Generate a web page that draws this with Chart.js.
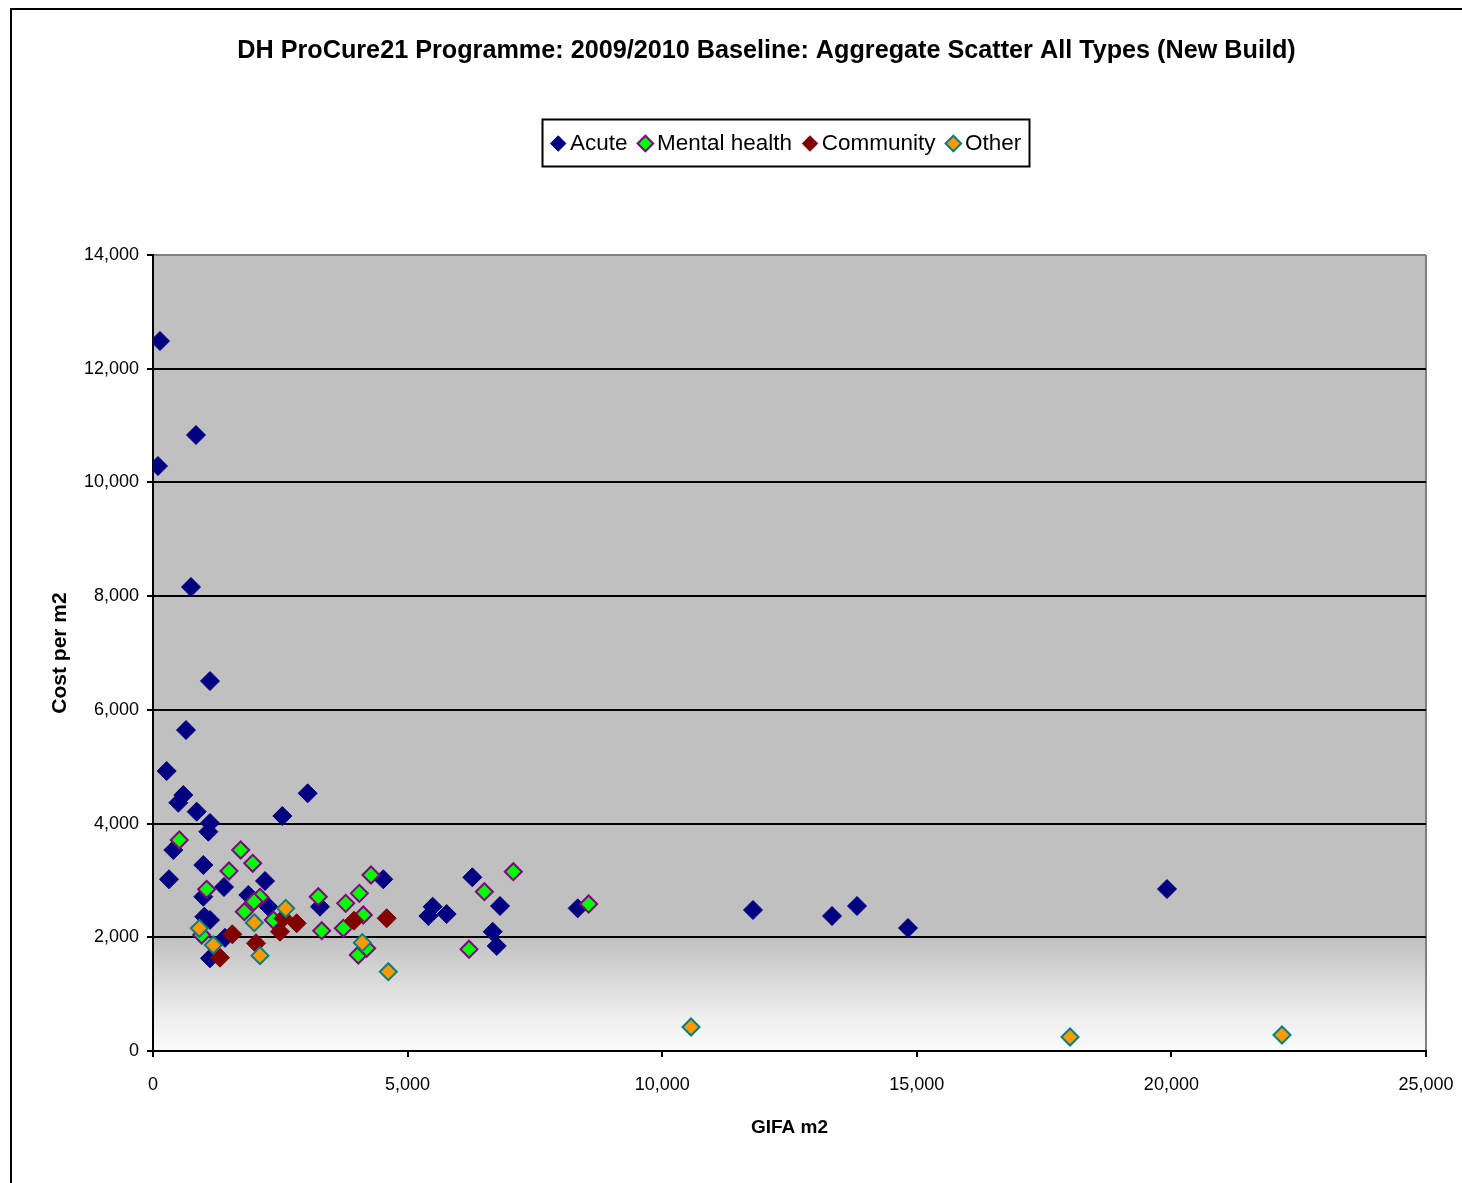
<!DOCTYPE html>
<html>
<head>
<meta charset="utf-8">
<script src="https://cdn.jsdelivr.net/npm/chart.js@4/dist/chart.umd.min.js"></script>
<style>
  html, body { margin: 0; padding: 0; background: #ffffff; }
  #wrap { position: relative; width: 1462px; height: 1183px; }
</style>
</head>
<body>
<div id="wrap"><canvas id="c"></canvas></div>
<script>
// ---------- DATA ----------
const chartTitle = 'DH ProCure21 Programme: 2009/2010 Baseline: Aggregate Scatter All Types (New Build)';
const seriesNames = ['Acute', 'Mental health', 'Community', 'Other'];
const xAxisTitle = 'GIFA m2';
const yAxisTitle = 'Cost per m2';
const xTicks = [0, 5000, 10000, 15000, 20000, 25000];
const yTicks = [0, 2000, 4000, 6000, 8000, 10000, 12000, 14000];

// GIFA m2 (x) / Cost per m2 (y)
const acuteX = [137, 98, 844, 746, 1119, 648, 269, 595, 497, 858, 1119, 1087, 3038, 2540, 399, 314, 988, 2200, 1394, 4523, 988, 1872, 2265, 1008, 1119, 3280, 1414, 1119, 5492, 5408, 5767, 6271, 6815, 6671, 6750, 8340, 11783, 13335, 13826, 14827, 19914];
const acuteY = [12487, 10288, 10834, 8160, 6507, 5645, 4924, 4502, 4367, 4210, 4010, 3857, 4532, 4133, 3535, 3020, 3271, 2990, 2884, 3020, 2714, 2744, 2538, 2362, 2304, 2538, 1990, 1630, 2538, 2374, 2409, 3055, 2550, 2098, 1847, 2509, 2480, 2374, 2550, 2163, 2849];

const mentalX = [517, 1722, 1958, 1493, 1054, 2101, 1983, 1794, 2363, 956, 3246, 3313, 4281, 4052, 3784, 4130, 3738, 4032, 4196, 6507, 7076, 6206, 8556];
const mentalY = [3711, 3535, 3301, 3166, 2844, 2703, 2627, 2450, 2304, 2040, 2714, 2116, 3095, 2773, 2597, 2392, 2158, 1688, 1806, 2802, 3154, 1789, 2585];

const communityX = [1558, 1316, 2023, 2494, 2560, 2822, 3947, 4589];
const communityY = [2052, 1641, 1894, 2098, 2334, 2246, 2292, 2334];

const otherX = [910, 1185, 1990, 2606, 2101, 4111, 4621, 10566, 18009, 22172];
const otherY = [2158, 1864, 2257, 2509, 1677, 1906, 1395, 422, 246, 281];

// ---------- FONT HELPERS ----------
const baseFamily = '"Liberation Sans", Arial, Helvetica, sans-serif';
const mctx = document.createElement('canvas').getContext('2d');
function fitSize(text, weight, family, target) {
  mctx.font = weight + ' 100px ' + family;
  return 100 * target / mctx.measureText(text).width;
}
const titleSize = Math.min(30, fitSize(chartTitle, 'bold', baseFamily, 1059));
const legendSize = Math.min(27, fitSize('Mental health', 'normal', baseFamily, 135));

// layout targets
const TOP_PAD = 8;
const titleCenter = 51;
const titlePadTop = titleCenter - TOP_PAD - 0.6 * titleSize;
const legendPad = 17.5;
const legendCenter = 143.5;
const legendTop = legendCenter - legendPad - legendSize / 2;
const titlePadBottom = legendTop - (titleCenter + 0.6 * titleSize);
const legendBottom = legendTop + legendSize + legendPad + 10;
const spacerPadBottom = Math.max(0, 255 - legendBottom - 12);

const toPts = (xs, ys) => xs.map((x, i) => ({ x: x, y: ys[i] }));

const bgPlugin = {
  id: 'bgPlugin',
  beforeDraw(chart) {
    const { ctx, chartArea: a } = chart;
    const g = ctx.createLinearGradient(0, a.top, 0, a.bottom);
    g.addColorStop(0, '#c0c0c0');
    g.addColorStop(0.857, '#c0c0c0');
    g.addColorStop(0.91, '#d9d9d9');
    g.addColorStop(0.96, '#efefef');
    g.addColorStop(1, '#fbfbfb');
    ctx.save();
    ctx.fillStyle = g;
    ctx.fillRect(a.left, a.top, a.right - a.left, a.bottom - a.top);
    // outer frame
    ctx.fillStyle = '#000';
    ctx.fillRect(10, 8, 2, chart.height - 8);
    ctx.fillRect(10, 8, chart.width - 10, 2);
    ctx.restore();
  },
  afterLayout(chart) {
    const tb = chart.titleBlock;
    if (tb) {
      const c = (tb.left + tb.right) / 2;
      tb.left += 2 * (766.5 - c);
    }
  },
  afterDraw(chart) {
    const lg = chart.legend;
    if (!lg || !lg.legendHitBoxes || !lg.legendHitBoxes.length) return;
    const hb = lg.legendHitBoxes;
    const first = hb[0], last = hb[hb.length - 1];
    const l = first.left - 15.5;
    const r = last.left + last.width + 8;
    const ctx = chart.ctx;
    ctx.save();
    ctx.strokeStyle = '#000';
    ctx.lineWidth = 2;
    ctx.strokeRect(Math.round(l) + 0.5, 119.5, Math.round(r - l), 47);
    ctx.restore();
  }
};

new Chart(document.getElementById('c'), {
  type: 'scatter',
  data: {
    datasets: [
      { label: seriesNames[0], data: toPts(acuteX, acuteY), order: 4,
        pointStyle: 'rectRot', pointRadius: 9.5, pointHoverRadius: 9.5, pointBorderWidth: 1,
        backgroundColor: '#000080', borderColor: '#000080' },
      { label: seriesNames[1], data: toPts(mentalX, mentalY), order: 3,
        pointStyle: 'rectRot', pointRadius: 8.5, pointHoverRadius: 8.5, pointBorderWidth: 2,
        backgroundColor: '#00ff00', borderColor: '#800080' },
      { label: seriesNames[2], data: toPts(communityX, communityY), order: 2,
        pointStyle: 'rectRot', pointRadius: 9.5, pointHoverRadius: 9.5, pointBorderWidth: 1,
        backgroundColor: '#800000', borderColor: '#800000' },
      { label: seriesNames[3], data: toPts(otherX, otherY), order: 1,
        pointStyle: 'rectRot', pointRadius: 8.5, pointHoverRadius: 8.5, pointBorderWidth: 2,
        backgroundColor: '#ff9900', borderColor: '#008080' }
    ]
  },
  options: {
    responsive: true,
    maintainAspectRatio: false,
    animation: false,
    events: [],
    layout: { padding: { top: TOP_PAD, left: 11, right: 36, bottom: 0 } },
    plugins: {
      tooltip: { enabled: false },
      title: {
        display: true,
        text: chartTitle,
        color: '#000',
        font: { family: baseFamily, size: titleSize, weight: 'bold', lineHeight: 1.2 },
        padding: { top: titlePadTop, bottom: titlePadBottom }
      },
      legend: {
        display: true,
        position: 'top',
        fullSize: false,
        labels: {
          usePointStyle: true,
          boxWidth: 1,
          boxHeight: 11,
          padding: legendPad,
          color: '#000',
          font: { family: baseFamily, size: legendSize },
          sort: (a, b) => a.datasetIndex - b.datasetIndex
        }
      },
      subtitle: {
        display: true,
        text: '',
        weight: 500,
        fullSize: false,
        font: { size: 10, lineHeight: 1.2 },
        padding: { top: 0, bottom: spacerPadBottom }
      }
    },
    scales: {
      x: {
        type: 'linear',
        min: 0, max: 25000,
        afterBuildTicks: (s) => { s.ticks = xTicks.map(v => ({ value: v })); },
        afterFit: (s) => { s.height = 132; },
        border: { display: true, color: '#000', width: 2 },
        grid: {
          drawOnChartArea: true,
          drawTicks: true,
          tickLength: 6,
          lineWidth: 2,
          tickColor: '#000',
          color: (c) => (c.tick && c.tick.value === 25000) ? '#808080' : 'rgba(0,0,0,0)'
        },
        ticks: {
          color: '#000',
          padding: 8,
          maxRotation: 0,
          font: { family: baseFamily, size: 18, lineHeight: 2.25 },
          callback: (v) => Number(v).toLocaleString('en-US')
        },
        title: {
          display: true,
          text: xAxisTitle,
          color: '#000',
          font: { family: baseFamily, size: 19, weight: 'bold', lineHeight: 1.2 },
          padding: { top: 0, bottom: 44 }
        }
      },
      y: {
        type: 'linear',
        min: 0, max: 14000,
        afterBuildTicks: (s) => { s.ticks = yTicks.map(v => ({ value: v })); },
        afterFit: (s) => { s.width = 142; },
        border: { display: true, color: '#000', width: 2 },
        grid: {
          drawOnChartArea: true,
          drawTicks: true,
          tickLength: 6,
          lineWidth: 2,
          tickColor: '#000',
          color: (c) => (c.tick && c.tick.value === 14000) ? '#808080' : '#000'
        },
        ticks: {
          color: '#000',
          padding: 8,
          font: { family: baseFamily, size: 18 },
          callback: (v) => Number(v).toLocaleString('en-US')
        },
        title: {
          display: true,
          text: yAxisTitle,
          color: '#000',
          font: { family: baseFamily, size: 21, weight: 'bold', lineHeight: 1.2 },
          padding: { top: 37, bottom: 0 }
        }
      }
    }
  },
  plugins: [bgPlugin]
});
</script>
</body>
</html>
